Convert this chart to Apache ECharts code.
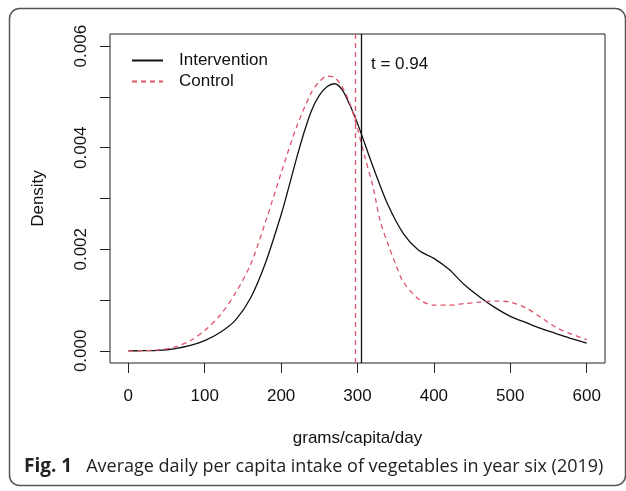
<!DOCTYPE html>
<html>
<head>
<meta charset="utf-8">
<script src="https://cdn.jsdelivr.net/npm/echarts@6/dist/echarts.min.js"></script>
<style>html,body{margin:0;padding:0;background:#fff}#c{width:626px;height:491px}</style>
</head>
<body>
<div id="c"></div>
<script>
var seriesNames = ['Intervention', 'Control'];
var interventionX = [0,20,40,60,80,100,120,140,160,180,200,210,220,230,240,250,260,270,280,290,300,320,340,360,380,400,420,440,460,480,500,520,540,560,580,600];
var interventionY = [0,0.000003,0.00001,0.00004,0.0001,0.0002,0.00036,0.0006,0.00104,0.00175,0.00268,0.00322,0.00378,0.0043,0.00474,0.00503,0.0052,0.00526,0.00514,0.00484,0.00448,0.00364,0.00287,0.00231,0.00198,0.00182,0.0016,0.0013,0.00106,0.00085,0.00068,0.00056,0.00044,0.00034,0.00024,0.00015];
var controlX = [0,20,40,60,80,100,120,140,160,180,200,220,240,250,260,270,280,290,300,310,320,330,340,350,360,380,400,420,440,460,480,500,520,540,560,580,600];
var controlY = [0,0.000004,0.00002,0.00007,0.00019,0.0004,0.0007,0.00113,0.0017,0.00256,0.0035,0.0044,0.0051,0.0053,0.00541,0.00538,0.0052,0.00487,0.00437,0.0038,0.00325,0.00254,0.0021,0.0017,0.00136,0.00102,0.0009,0.0009,0.00093,0.00096,0.00098,0.00096,0.00085,0.00066,0.00046,0.00033,0.00022];
var interventionMean = 305;
var controlMean = 297;
var xTicks = [0,100,200,300,400,500,600];
var yTicks = [0,0.001,0.002,0.003,0.004,0.005,0.006];
var yLabels = [0,0.002,0.004,0.006];
var tLabel = 't = 0.94';
var xTitle = 'grams/capita/day';
var yTitle = 'Density';
var captionBold = 'Fig. 1';
var captionText = 'Average daily per capita intake of vegetables in year six (2019)';

function pairs(xs, ys){ return xs.map(function(x,i){ return [x, ys[i]]; }); }

var RED = '#DF536B';
var FONT = 'Liberation Sans';
var chart = echarts.init(document.getElementById('c'));
chart.setOption({
  animation: false,
  backgroundColor: '#fff',
  grid: { left: 110, right: 21, top: 34, bottom: 128, show: true, borderColor: '#222', borderWidth: 1, backgroundColor: 'transparent' },
  legend: {
    orient: 'vertical', left: 126, top: 47, itemWidth: 31, itemHeight: 14, itemGap: 4,
    data: seriesNames,
    itemStyle: { opacity: 0 },
    textStyle: { fontFamily: FONT, fontSize: 17, color: '#111', padding: [0,0,0,11] }
  },
  xAxis: {
    type: 'value', min: -24, max: 624,
    axisLine: { show: false, onZero: false },
    axisTick: { show: true, length: 10, customValues: xTicks, lineStyle: { color: '#222' } },
    axisLabel: { customValues: xTicks, margin: 25, fontFamily: FONT, fontSize: 17, color: '#111' },
    splitLine: { show: false },
    name: xTitle, nameLocation: 'middle', nameGap: 67,
    nameTextStyle: { fontFamily: FONT, fontSize: 17, color: '#111' }
  },
  yAxis: {
    type: 'value', min: -0.00024, max: 0.00624,
    axisLine: { show: false, onZero: false },
    axisTick: { show: true, length: 10, customValues: yTicks, lineStyle: { color: '#222' } },
    axisLabel: { customValues: yLabels, rotate: 90, margin: 20, fontFamily: FONT, fontSize: 17, color: '#111',
      formatter: function(v){ return v.toFixed(3); } },
    splitLine: { show: false },
    name: yTitle, nameLocation: 'middle', nameGap: 63,
    nameTextStyle: { fontFamily: FONT, fontSize: 17, color: '#111' }
  },
  series: [
    { name: seriesNames[0], type: 'line', data: pairs(interventionX, interventionY), smooth: 0.3, symbol: 'none',
      color: '#111', lineStyle: { color: '#111', width: 1.3 },
      markLine: { silent: true, symbol: ['none','none'], label: { show: false },
        lineStyle: { color: '#111', width: 1.3, type: 'solid' }, data: [{ xAxis: interventionMean }] } },
    { name: seriesNames[1], type: 'line', data: pairs(controlX, controlY), smooth: 0.3, symbol: 'none',
      color: RED, lineStyle: { color: RED, width: 1.3, type: [5,4] },
      markLine: { silent: true, symbol: ['none','none'], label: { show: false },
        lineStyle: { color: RED, width: 1.3, type: [5,4] }, data: [{ xAxis: controlMean }] } }
  ],
  graphic: [
    { type: 'rect', left: 7, top: 6, shape: { width: 616, height: 477, r: 10 }, style: { fill: 'none', stroke: '#555', lineWidth: 1.5 }, z: -1 },
    { type: 'text', left: 371, top: 56, style: { text: tLabel, font: '17px "Liberation Sans"', fill: '#111' } },
    { type: 'text', left: 24, top: 457, style: {
      text: '{b|' + captionBold + '}{n|   ' + captionText + '}',
      rich: { b: { fontFamily: 'Open Sans', fontWeight: 'bold', fontSize: 19, fill: '#222', color: '#222' },
              n: { fontFamily: 'Open Sans', fontSize: 18, fill: '#222', color: '#222' } } } }
  ]
});
</script>
</body>
</html>
